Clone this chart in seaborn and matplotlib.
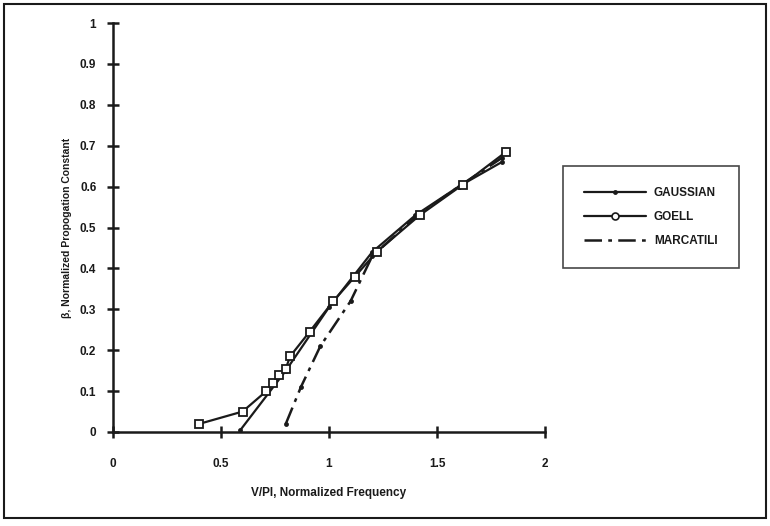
import matplotlib
matplotlib.use("Agg")
import matplotlib.pyplot as plt
from matplotlib.lines import Line2D
from matplotlib.patches import Rectangle
import seaborn as sns
import pandas as pd

# ---- data ----
gauss_x = [0.59, 0.8, 1.0, 1.2, 1.4, 1.6, 1.8]
gauss_y = [0.005, 0.15, 0.305, 0.44, 0.53, 0.60, 0.66]

goell_x = [0.4, 0.6, 0.71, 0.74, 0.77, 0.8, 0.82, 0.91, 1.02, 1.12, 1.22, 1.42, 1.62, 1.82]
goell_y = [0.02, 0.05, 0.10, 0.12, 0.14, 0.155, 0.185, 0.245, 0.32, 0.38, 0.44, 0.53, 0.605, 0.685]

marc_x = [0.8, 0.87, 0.96, 1.1, 1.2, 1.4, 1.6, 1.8]
marc_y = [0.02, 0.11, 0.21, 0.32, 0.43, 0.525, 0.60, 0.67]

x_ticks = [0, 0.5, 1, 1.5, 2]
x_tick_labels = ["0", "0.5", "1", "1.5", "2"]
y_ticks = [0, 0.1, 0.2, 0.3, 0.4, 0.5, 0.6, 0.7, 0.8, 0.9, 1]
y_tick_labels = ["0", "0.1", "0.2", "0.3", "0.4", "0.5", "0.6", "0.7", "0.8", "0.9", "1"]

series_names = ["GAUSSIAN", "GOELL", "MARCATILI"]

sns.set_theme(style="white")
plt.rcParams['font.family'] = ['Liberation Sans', 'DejaVu Sans']

fig = plt.figure(figsize=(7.7, 5.26), dpi=100)
ax = fig.add_axes([113 / 770, 94 / 526, 432 / 770, 409 / 526])

df_g = pd.DataFrame({"x": gauss_x, "y": gauss_y})
df_o = pd.DataFrame({"x": goell_x, "y": goell_y})
df_m = pd.DataFrame({"x": marc_x, "y": marc_y})

ink = "#1a1a1a"
sns.lineplot(data=df_m, x="x", y="y", sort=False, ax=ax, color=ink, lw=1.8,
             linestyle=(0, (7, 2.5, 1.5, 2.5)), marker="o", markersize=3.5,
             markeredgewidth=0, markerfacecolor=ink, clip_on=False)
sns.lineplot(data=df_g, x="x", y="y", sort=False, ax=ax, color=ink, lw=1.6,
             marker="o", markersize=3.5, markeredgewidth=0,
             markerfacecolor=ink, clip_on=False)
sns.lineplot(data=df_o, x="x", y="y", sort=False, ax=ax, color=ink, lw=1.6,
             marker="s", markersize=5.5, markerfacecolor="white",
             markeredgecolor=ink, markeredgewidth=1.3, clip_on=False)

ax.set_xlim(0, 2)
ax.set_ylim(0, 1)
ax.set_xticks(x_ticks)
ax.set_xticklabels(x_tick_labels)
ax.set_yticks(y_ticks)
ax.set_yticklabels(y_tick_labels)
for s in ["top", "right"]:
    ax.spines[s].set_visible(False)
for s in ["left", "bottom"]:
    ax.spines[s].set_color(ink)
    ax.spines[s].set_linewidth(1.8)
ax.tick_params(axis="both", bottom=True, left=True, direction="inout", length=8,
               width=1.8, color=ink, labelsize=8.5, labelcolor=ink)
ax.tick_params(axis="x", pad=15)
ax.tick_params(axis="y", pad=8)
for lab in ax.get_xticklabels() + ax.get_yticklabels():
    lab.set_fontweight("bold")

ax.set_xlabel("V/PI, Normalized Frequency", fontsize=8.5, fontweight="bold",
              color=ink, labelpad=12)
ax.set_ylabel("β, Normalized Propogation Constant", fontsize=7.5, fontweight="bold",
              color=ink, labelpad=6)

handles = [
    Line2D([], [], color=ink, lw=1.6, marker="o", markersize=3.5, markeredgewidth=0),
    Line2D([], [], color=ink, lw=1.6, marker="o", markersize=5, markerfacecolor="white",
           markeredgewidth=1.2),
    Line2D([], [], color=ink, lw=1.8, linestyle=(0, (7, 2.5, 1.5, 2.5))),
]
leg = fig.legend(handles, series_names, loc="upper left",
                 bbox_to_anchor=(563 / 770, 1 - 166 / 526), bbox_transform=fig.transFigure,
                 frameon=True, fancybox=False, handlelength=5.2,
                 labelspacing=1.0, borderpad=1.8, handletextpad=0.7,
                 borderaxespad=0,
                 prop={"weight": "bold", "size": 8.5})
leg.get_frame().set_edgecolor(ink)
leg.get_frame().set_linewidth(1.2)
for t in leg.get_texts():
    t.set_color(ink)

fig.patches.append(Rectangle((4 / 770, 8 / 526), 762 / 770, 514 / 526,
                             transform=fig.transFigure, fill=False,
                             edgecolor=ink, linewidth=1.5))

fig.savefig("out.png", dpi=100)
